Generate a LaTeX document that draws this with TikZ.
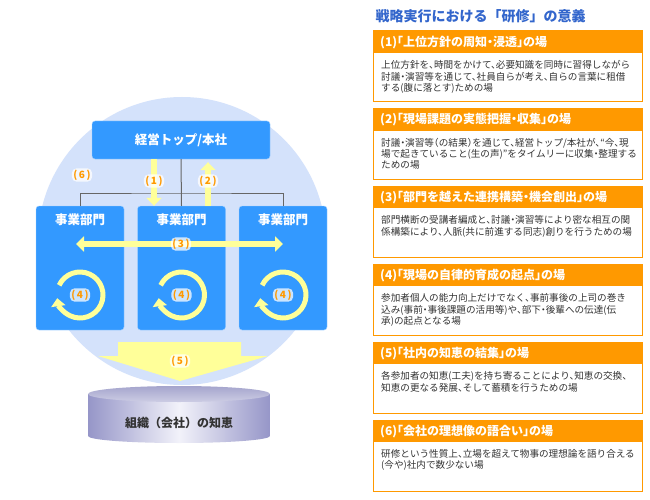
\documentclass[tikz,border=0pt]{standalone}
\usepackage{fontspec}
\setmainfont{Noto Sans CJK JP}
\newfontfamily\jphalf{Noto Sans CJK JP}[RawFeature=+halt]
\usetikzlibrary{positioning,arrows.meta}

\definecolor{disc}{RGB}{212,226,251}
\definecolor{boxblue}{RGB}{51,153,255}
\definecolor{ylw}{RGB}{255,255,153}
\definecolor{orng}{RGB}{255,153,0}
\definecolor{ttlblue}{RGB}{51,102,204}
\definecolor{linkgray}{RGB}{102,102,102}
\definecolor{cylside}{RGB}{150,150,200}
\definecolor{cylmid}{RGB}{242,242,250}
\definecolor{cyltopA}{RGB}{165,165,205}
\definecolor{cyltopB}{RGB}{205,205,228}
\definecolor{bodytxt}{RGB}{51,51,51}

\tikzset{
  box/.style={fill=boxblue, draw=white!55!boxblue, rounded corners=3pt, inner sep=0pt},
  btxt/.style={text=white, inner sep=0pt, font=\fontsize{12.5}{14}\selectfont\bfseries},
  num/.style={text=orng, fill=white, fill opacity=.75, text opacity=1, rounded corners=5pt, inner sep=1.5pt, font=\fontsize{10}{11}\selectfont\bfseries},
  link/.style={draw=linkgray, line width=1pt},
  ylwarrow/.style={draw=ylw, line width=6pt, >={Triangle[width=15pt,length=8pt]}},
  cyc/.style={draw=ylw, line width=5pt, ->, >={Triangle[width=14pt,length=8pt]}},
  head/.style={fill=orng, anchor=north west, text width=255pt, align=left, inner xsep=7pt, minimum height=22pt, text=white, font=\jphalf\fontsize{12}{13}\selectfont\bfseries},
  bodytx/.style={anchor=north west, align=left, inner sep=2pt, text=bodytxt, font=\jphalf\fontsize{9.6}{11.3}\selectfont}
}

\begin{document}
\begin{tikzpicture}[x=1pt,y=-1pt]
\useasboundingbox[fill=white] (0,0) rectangle (650,500);

% left side
\fill[disc] (182,241) circle [radius=144pt];

\node[box, btxt, minimum width=178pt, minimum height=38pt] (top) at (181,140) {経営トップ/本社};
\foreach \i/\x in {1/80,2/181.5,3/283}
    {
    \node[box, minimum width=88pt, minimum height=124pt] (div\i) at (\x,268) {};
    \node[btxt, below=8pt of div\i.north] (dt\i) {事業部門};
    }

\coordinate (c1) at (154,181);
\coordinate (c2) at (208,181);
\coordinate (c3) at (181,244);
\coordinate (bus) at (181,193);

\draw[link] (top.south) -- (div2.north);
\draw[link] (div1.north) |- (bus) -| (div3.north);

\draw[ylwarrow,->] (top.south -| c1) -- (div2.north -| c1);
\draw[ylwarrow,->] (div2.north -| c2) -- ([yshift=-3pt]top.south -| c2);
\draw[ylwarrow,<->,shorten <=-4pt] (c3 -| div1) -- (c3 -| div3);

\foreach \i in {1,2,3}
    {
    \coordinate (o\i) at ([yshift=-27pt]div\i.center);
    \draw[cyc] (o\i) ++(155:23pt) arc[start angle=155, end angle=-172, radius=23pt];
    \node[num] (n4\i) at (o\i) {(\,4\,)};
    }

\fill[ylw] (118,342) -- (241,342) -- (241,356) -- (268,356) -- (180,381) -- (98,356) -- (118,356) -- cycle;

% cylinder
\shade[left color=cylside, right color=cylside, middle color=cylmid] (88,394) -- (88,436) arc[start angle=180, end angle=360, x radius=91pt, y radius=7pt] -- (270,394) -- cycle;
\shade[top color=cyltopA, bottom color=cyltopB] (179,394) ellipse [x radius=91pt, y radius=8pt];
\node[text=bodytxt, font=\fontsize{12}{14}\selectfont\bfseries] (base) at (179,423) {組織（会社）の知恵};

\node[num] (n1) at (c1) {(\,1\,)};
\node[num] (n2) at (c2) {(\,2\,)};
\node[num] (n3) at (c3) {(\,3\,)};
\node[num] (n5) at (180,361) {(\,5\,)};
\node[num] (n6) at (82,175) {(\,6\,)};

% right side
\node[anchor=west, text=ttlblue, font=\fontsize{14}{16}\selectfont\bfseries] (ttl) at (372,16) {戦略実行における「研修」の意義};

\node[head] (h1) at (373,31) {(1)「上位方針の周知・浸透」の場};
\draw[orng, line width=1pt] (h1.north west) rectangle ++(269pt,-71pt);
\node[bodytx, below right=5pt and 6pt of h1.south west] (b1) {上位方針を、時間をかけて、必要知識を同時に習得しながら\\討議・演習等を通じて、社員自らが考え、自らの言葉に租借\\する(腹に落とす)ための場};

\node[head] (h2) at (373,108.5) {(2)「現場課題の実態把握・収集」の場};
\draw[orng, line width=1pt] (h2.north west) rectangle ++(269pt,-71pt);
\node[bodytx, below right=5pt and 6pt of h2.south west] (b2) {討議・演習等（の結果）を通じて、経営トップ/本社が、“今、現\\場で起きていること(生の声)”をタイムリーに収集・整理する\\ための場};

\node[head] (h3) at (373,186) {(3)「部門を越えた連携構築・機会創出」の場};
\draw[orng, line width=1pt] (h3.north west) rectangle ++(269pt,-71pt);
\node[bodytx, below right=5pt and 6pt of h3.south west] (b3) {部門横断の受講者編成と、討議・演習等により密な相互の関\\係構築により、人脈(共に前進する同志)創りを行うための場};

\node[head] (h4) at (373,264) {(4)「現場の自律的育成の起点」の場};
\draw[orng, line width=1pt] (h4.north west) rectangle ++(269pt,-71pt);
\node[bodytx, below right=5pt and 6pt of h4.south west] (b4) {参加者個人の能力向上だけでなく、事前事後の上司の巻き\\込み(事前・事後課題の活用等)や、部下・後輩への伝達(伝\\承)の起点となる場};

\node[head] (h5) at (373,342) {(5)「社内の知恵の結集」の場};
\draw[orng, line width=1pt] (h5.north west) rectangle ++(269pt,-71pt);
\node[bodytx, below right=5pt and 6pt of h5.south west] (b5) {各参加者の知恵(工夫)を持ち寄ることにより、知恵の交換、\\知恵の更なる発展、そして蓄積を行うための場};

\node[head] (h6) at (373,420) {(6)「会社の理想像の語合い」の場};
\draw[orng, line width=1pt] (h6.north west) rectangle ++(269pt,-71pt);
\node[bodytx, below right=5pt and 6pt of h6.south west] (b6) {研修という性質上、立場を超えて物事の理想論を語り合える\\(今や)社内で数少ない場};

\end{tikzpicture}
\end{document}
